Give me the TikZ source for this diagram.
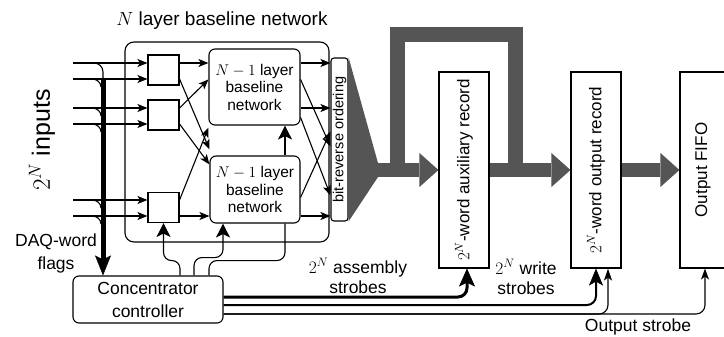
\documentclass[tikz,border=0pt]{standalone}
\usepackage{fix-cm}
\usepackage{fontspec}
\setmainfont{Liberation Sans}
\usetikzlibrary{arrows.meta,calc}
\definecolor{flowgray}{HTML}{555555}
\begin{document}
\begin{tikzpicture}[x=1pt,y=-1pt,
  wire/.style={line width=1.1pt},
  arr/.style={wire,-{Stealth[length=10pt,width=8pt,inset=2.5pt]}},
  ctl/.style={wire,-{Stealth[length=14pt,width=14pt,inset=3.5pt]}},
  blk/.style={draw,line width=1.1pt,inner sep=0pt,fill=white},
  rblk/.style={blk,rounded corners=6pt},
  sub/.style={align=center,font=\fontsize{15.5}{17.5}\selectfont},
  lbl/.style={align=center,font=\fontsize{17.5}{20}\selectfont},
  rec/.style={rotate=90,font=\fontsize{17}{20}\selectfont},
  flow/.style={draw=flowgray,line width=14pt,-{Triangle[length=19pt,width=34pt,line width=0pt]}}]
\useasboundingbox (0,0) rectangle (724,337);

% title and outer network frame
\node[font=\fontsize{19}{23}\selectfont] (ttl) at (222,21) {$N$ layer baseline network};
\node[draw,line width=1.1pt,rounded corners=9pt,minimum width=204pt,minimum height=200pt] (net) at (227,142) {};

% first-stage switches
\node[blk,minimum width=31pt,minimum height=30pt] (s1) at (163.5,70) {};
\node[blk,minimum width=31pt,minimum height=30pt] (s2) at (163.5,115) {};
\node[blk,minimum width=31pt,minimum height=30pt] (s3) at (163.5,207.5) {};

% recursive sub-networks
\node[rblk,sub,minimum width=91pt,minimum height=76pt] (u) at (254.5,87) {$N-1$ layer\\baseline\\network};
\node[rblk,sub,minimum width=90pt,minimum height=67pt] (l) at (255,189.5) {$N-1$ layer\\baseline\\network};

% bit-reverse ordering
\node[blk,rounded corners=3pt,minimum width=17pt,minimum height=163pt] (br) at (339.5,139.5) {};
\node[rotate=90,font=\fontsize{14.5}{17}\selectfont] (brt) at (br.center) {bit-reverse ordering};

% gray data path
\coordinate (ap1) at (378,163);
\coordinate (ap2) at (378,177);
\fill[flowgray] (br.north east) -- (ap1) -- (ap2) -- (br.south east) -- cycle;
\draw[flowgray,line width=15pt] (397.5,177) -- (397.5,34.5) -- (515.5,34.5) -- (515.5,177);

% records and FIFO
\node[blk,minimum width=50pt,minimum height=196pt] (aux) at (464,170) {};
\node[rec] (auxt) at (aux.center) {$2^N$-word auxiliary record};
\node[blk,minimum width=50pt,minimum height=196pt] (orec) at (596,170) {};
\node[rec] (orect) at (orec.center) {$2^N$-word output record};
\node[blk,minimum width=46pt,minimum height=196pt] (fifo) at (703,170) {};
\node[rec] (fifot) at (fifo.center) {Output FIFO};

\draw[flow] (376,170) -- (aux.west);
\draw[flow] (aux.east) -- (orec.west);
\draw[flow] (orec.east) -- (fifo.west);

% controller
\node[rblk,lbl,font=\fontsize{17.5}{23}\selectfont,minimum width=150pt,minimum height=47pt] (cc) at (148,299.5) {Concentrator\\controller};

% inputs
\node[font=\fontsize{25}{30}\selectfont,rotate=90] (inl) at (42,140) {$2^N$ inputs};
\foreach \y [count=\i] in {63,79,108,124,200,216} \coordinate (in\i) at (73,\y);
\draw[arr] (in1) -- (in1 -| s1.west);
\draw[arr] (in2) -- (in2 -| s1.west);
\draw[arr] (in3) -- (in3 -| s2.west);
\draw[arr] (in4) -- (in4 -| s2.west);
\draw[arr] (in5) -- (in5 -| s3.west);
\draw[arr] (in6) -- (in6 -| s3.west);

% DAQ-word flag taps and bus
\coordinate (bt) at (103,80);
\draw[wire,rounded corners=9pt] ($(in1)+(16,0)$) -| (bt);
\foreach \i in {2,...,6}
  \draw[wire] ($(in\i)+(19,0)$) to[out=0,in=90] ($(in\i)+(28,8)$);
\draw[line width=5pt,-{Stealth[length=20pt,width=16pt,inset=4pt,line width=0.5pt]}] (bt) -- (bt |- cc.north);
\node[lbl,font=\fontsize{17.5}{23}\selectfont] (daq) at (56,253) {DAQ-word\\flags};

% first-stage wiring
\draw[arr] (s1.east |- in1) -- (u.west |- in1);
\draw[arr] (s1.east |- in2) -- ($(l.north west)+(0,-6)$);
\draw[arr] (s2.east |- in3) -- ($(u.north west)+(0,31)$);
\draw[arr] (s2.east |- in4) -- ($(l.north west)+(0,9)$);
\draw[arr] (s3.east |- in5) -- ($(u.south west)+(0,2)$);
\draw[arr] (s3.east |- in6) -- (l.west |- in6);

% output wiring into the bit-reverse stage
\draw[arr] (u.east |- in1) -- (br.west |- in1);
\draw[arr] (u.east |- in3) -- (br.west |- in3);
\draw[arr] ($(u.north east)+(0,31)$) -- ($(br.north west)+(0,89)$);
\draw[arr] ($(u.north east)+(0,69)$) -- ($(br.north west)+(0,138)$);
\draw[arr] ($(l.north east)+(0,42)$) -- ($(br.north west)+(0,74)$);
\draw[arr] (l.east |- in6) -- (br.west |- in6);

% control lines
\draw[ctl,rounded corners=8pt] ([xshift=32pt]cc.north) |- ($(s3.south)+(0,37.5)$) -- (s3.south);
\draw[ctl,rounded corners=8pt] ([xshift=46pt]cc.north) |- ($([xshift=-32pt]l.south)+(0,34)$) -- ([xshift=-32pt]l.south);
\draw[wire,rounded corners=8pt] ([xshift=61pt]cc.north) |- ($([xshift=30pt]l.south)+(0,37)$) -- ([xshift=30pt]l.south);
\draw[ctl] ([xshift=30pt]l.north) -- ([xshift=30.5pt]u.south);

% strobes
\draw[line width=3pt,rounded corners=9pt,-{Stealth[length=18pt,width=16pt,inset=4pt,line width=0.5pt]}] ([yshift=2.5pt]cc.east) -| ([xshift=3pt]aux.south);
\draw[line width=2pt,rounded corners=9pt,-{Stealth[length=17pt,width=14pt,inset=4pt,line width=0.5pt]}] ([yshift=-5.5pt]cc.east) -| (orec.south);
\draw[wire,rounded corners=9pt,-{Stealth[length=12pt,width=8pt,inset=3pt]}] ([yshift=-14.5pt]cc.east) -| ([xshift=12pt]orec.south);
\draw[wire,rounded corners=9pt,-{Stealth[length=11pt,width=8pt,inset=3pt]}] ([yshift=-14.5pt]cc.east) -| ([xshift=2pt]fifo.south);

\node[lbl] (asl) at (358,276) {$2^N$ assembly\\strobes};
\node[lbl] (wsl) at (526,277) {$2^N$ write\\strobes};
\node[lbl] (osl) at (638,327) {Output strobe};
\end{tikzpicture}
\end{document}
